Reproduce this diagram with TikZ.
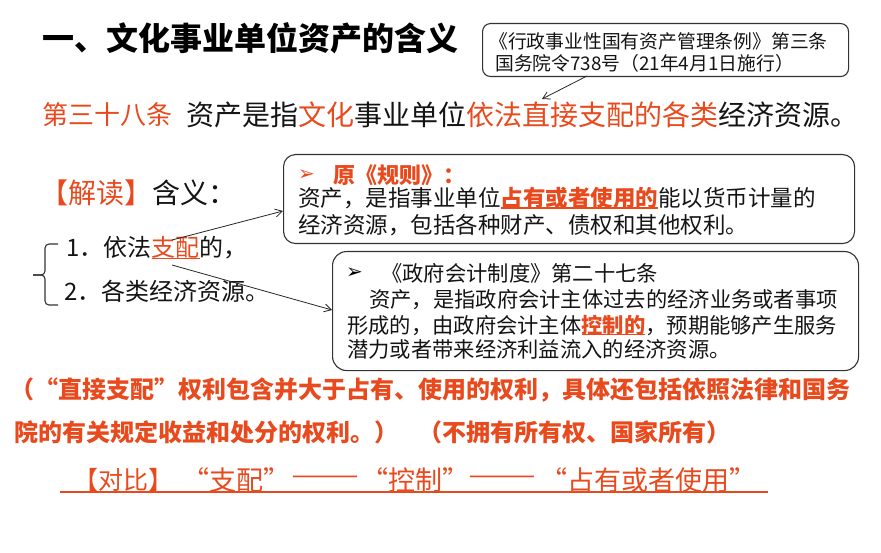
\documentclass[tikz,border=0pt]{standalone}
\usepackage{fontspec}
\setmainfont{Noto Sans CJK SC}
\newfontfamily\dejavu{DejaVu Sans}
\usetikzlibrary{arrows.meta}
\definecolor{hl}{RGB}{232,74,30}
\definecolor{ink}{RGB}{20,20,20}
\newcommand{\fs}[1]{\fontsize{#1}{#1}\selectfont}
\newcommand{\ulc}[1]{\setbox0\hbox{#1}\rlap{\rule[-0.1em]{\wd0}{1.3pt}}\box0}
\begin{document}
\begin{tikzpicture}[x=1pt,y=-1pt,
  txt/.style={inner sep=0pt, anchor=west, text=ink},
  cmpt/.style={inner sep=0pt, anchor=center, text=hl, font=\fs{27}},
  bx/.style={draw=black!80, line width=1.1pt, anchor=north west, inner sep=0pt},
  con/.style={draw=black!85, line width=0.8pt, -{Straight Barb[length=7pt,width=8pt]}}]
\useasboundingbox (0,0) rectangle (881,553);

% title
\node[txt, font=\fs{32}\bfseries, text=black] (title) at (42,38) {一、文化事业单位资产的含义};

% callout
\node[bx, rounded corners=8pt, minimum width=366pt, minimum height=53pt] (cb) at (482,23) {};
\node[txt, font=\fs{18.8}] (cb1) at (489,41) {《行政事业性国有资产管理条例》第三条};
\node[txt, font=\fs{18.8}] (cb2) at (495,63) {国务院令738号（21年4月1日施行）};
\coordinate (cbs) at (587,76);
\coordinate (cbt) at (542,99);
\draw[con] (cbs) -- (cbt);

% article line
\node[txt, font=\fs{26}, text=hl] (art) at (42,115) {第三十八条};
\node[txt, font=\fs{28}] (def) at (186,115) {资产是指{\color{hl}文化}事业单位{\color{hl}依法直接支配的各类}经济资源。};

% interpretation
\node[txt, font=\fs{28}] (jd) at (40,193) {{\color{hl}【解读】}含义：};
\node[txt, font=\fs{24}] (i1) at (66,248) {1．依法{\color{hl}\ulc{支配}}的，};
\node[txt, font=\fs{24}] (i2) at (64,291) {2．各类经济资源。};
\draw[black!80, line width=1.1pt, rounded corners=4pt] (58,244) -- (45,244) -- (45,275) -- (33,275);
\draw[black!80, line width=1.1pt, rounded corners=4pt] (33,275) -- (45,275) -- (45,305) -- (58,305);

% box 1
\node[bx, rounded corners=12pt, minimum width=571pt, minimum height=89pt] (b1) at (283,154) {};
\node[txt, font=\fs{20}\dejavu\bfseries, text=hl] (b1a) at (298,175) {➢};
\node[txt, font=\fs{22}\bfseries, text=hl] (b1t) at (333,175) {原《规则》：};
\node[txt, font=\fs{22.5}] (b1l1) at (298,198) {资产，是指事业单位{\color{hl}\bfseries\ulc{占有或者使用的}}能以货币计量的};
\node[txt, font=\fs{22.5}] (b1l2) at (298,225) {经济资源，包括各种财产、债权和其他权利。};

% box 2
\node[bx, rounded corners=14pt, minimum width=526pt, minimum height=119pt] (b2) at (332,251) {};
\node[txt, font=\fs{20}\dejavu\bfseries, text=black] (b2a) at (346,273) {➢};
\node[txt, font=\fs{21.3}] (b2t) at (381,273) {《政府会计制度》第二十七条};
\node[txt, font=\fs{21.3}] (b2l1) at (369,300) {资产，是指政府会计主体过去的经济业务或者事项};
\node[txt, font=\fs{21.3}] (b2l2) at (347,325) {形成的，由政府会计主体{\color{hl}\bfseries\ulc{控制的}}，预期能够产生服务};
\node[txt, font=\fs{21.3}] (b2l3) at (347,349) {潜力或者带来经济利益流入的经济资源。};

% connectors from interpretation
\coordinate (a1s) at (172,240);
\coordinate (a1t) at (283,211);
\draw[con] (a1s) -- (a1t);
\coordinate (a2s) at (172,265);
\coordinate (a2t) at (332,310);
\draw[con] (a2s) -- (a2t);

% red notes
\node[txt, font=\fs{24}\bfseries, text=hl] (n1) at (10,390) {（“直接支配”权利包含并大于占有、使用的权利，具体还包括依照法律和国务};
\node[txt, font=\fs{24}\bfseries, text=hl] (n2) at (14,432) {院的有关规定收益和处分的权利。）\hspace{20pt}（不拥有所有权、国家所有）};

% comparison
\node[txt, font=\fs{25}, text=hl] (c1) at (73,480) {【对比】};
\node[cmpt] (c2) at (236,480) {“支配”};
\node[cmpt] (c3) at (325,480) {\scalebox{1.5}[1]{——}};
\node[cmpt] (c4) at (415,480) {“控制”};
\node[cmpt] (c5) at (502,480) {\scalebox{1.5}[1]{——}};
\node[cmpt] (c6) at (648,480) {“占有或者使用”};
\coordinate (ul1) at (60,492);
\coordinate (ul2) at (768,492);
\draw[hl, line width=1.5pt] (ul1) -- (ul2);
\end{tikzpicture}
\end{document}
